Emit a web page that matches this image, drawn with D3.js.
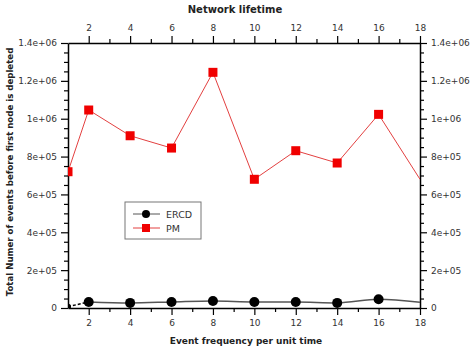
<!DOCTYPE html>
<html>
<head>
<meta charset="UTF-8">
<title>Network lifetime</title>
<style>
  body { margin: 0; background: #fff; }
  text { font-family: "DejaVu Sans", Verdana, sans-serif; }
  .tick text { font-size: 9px; fill: #333; }
  .title { font-weight: bold; fill: #222; }
</style>
</head>
<body>
<div id="chart"></div>
<script src="https://d3js.org/d3.v7.min.js"></script>
<script>
const xValues = [1, 2, 4, 6, 8, 10, 12, 14, 16, 18];
const ercd = [7000, 32000, 27000, 32000, 37000, 32000, 32000, 27000, 46000, 30000];
const pm = [720000, 1046000, 910000, 845000, 1245000, 680000, 831000, 766000, 1023000, 680000];
const xTicks = [2, 4, 6, 8, 10, 12, 14, 16, 18];
const yTicks = [0, 200000, 400000, 600000, 800000, 1000000, 1200000, 1400000];
const yTickLabels = ["0", "2e+05", "4e+05", "6e+05", "8e+05", "1e+06", "1.2e+06", "1.4e+06"];

const width = 474, height = 351;
const margin = { top: 43, right: 54, bottom: 43, left: 68 };
const iw = width - margin.left - margin.right;
const ih = height - margin.top - margin.bottom;

const svg = d3.select("#chart").append("svg")
    .attr("width", width)
    .attr("height", height);

const g = svg.append("g").attr("transform", `translate(${margin.left},${margin.top})`);

const x = d3.scaleLinear().domain([1, 18]).range([0, iw]);
const y = d3.scaleLinear().domain([0, 1400000]).range([ih, 0]);

svg.append("defs").append("clipPath").attr("id", "clip")
    .append("rect").attr("width", iw).attr("height", ih);

// minor ticks
const xMinor = d3.range(3, 18, 2);
const yMinor = d3.range(0, 1400001, 50000).filter(v => v % 200000 !== 0);

function styleAxis(sel) {
    sel.select(".domain").attr("stroke", "#000").attr("stroke-width", 1.5);
    sel.selectAll(".tick line").attr("stroke", "#000").attr("stroke-width", 1.2);
}

// x axes
const axBottom = g.append("g").attr("transform", `translate(0,${ih})`)
    .call(d3.axisBottom(x).tickValues(xTicks).tickSize(7).tickSizeOuter(0).tickPadding(5));
axBottom.append("g").call(d3.axisBottom(x).tickValues(xMinor).tickSize(4).tickFormat(""))
    .select(".domain").remove();
styleAxis(axBottom);

const axTop = g.append("g")
    .call(d3.axisTop(x).tickValues(xTicks).tickSize(7).tickSizeOuter(0).tickPadding(5));
axTop.append("g").call(d3.axisTop(x).tickValues(xMinor).tickSize(4).tickFormat(""))
    .select(".domain").remove();
styleAxis(axTop);

// y axes
const axLeft = g.append("g")
    .call(d3.axisLeft(y).tickValues(yTicks).tickFormat((d, i) => yTickLabels[i]).tickSize(7).tickSizeOuter(0).tickPadding(4));
axLeft.append("g").call(d3.axisLeft(y).tickValues(yMinor).tickSize(4).tickFormat(""))
    .select(".domain").remove();
styleAxis(axLeft);

const axRight = g.append("g").attr("transform", `translate(${iw},0)`)
    .call(d3.axisRight(y).tickValues(yTicks).tickFormat((d, i) => yTickLabels[i]).tickSize(7).tickSizeOuter(0).tickPadding(4));
axRight.append("g").call(d3.axisRight(y).tickValues(yMinor).tickSize(4).tickFormat(""))
    .select(".domain").remove();
styleAxis(axRight);

// series
const plot = g.append("g").attr("clip-path", "url(#clip)");
const line = d3.line().x(d => x(d[0])).y(d => y(d[1]));

const ercdPts = xValues.map((v, i) => [v, ercd[i]]);
const pmPts = xValues.map((v, i) => [v, pm[i]]);

// first ERCD segment is dashed black
plot.append("path").datum(ercdPts.slice(0, 2))
    .attr("d", line).attr("fill", "none")
    .attr("stroke", "#000").attr("stroke-width", 1.5).attr("stroke-dasharray", "3,2");
plot.append("path").datum(ercdPts.slice(1))
    .attr("d", line.curve(d3.curveMonotoneX)).attr("fill", "none")
    .attr("stroke", "#555").attr("stroke-width", 1.5);
line.curve(d3.curveLinear);

plot.append("path").datum(pmPts)
    .attr("d", line).attr("fill", "none")
    .attr("stroke", "#e34040").attr("stroke-width", 1);

plot.selectAll(".pm").data(pmPts.slice(0, -1)).enter().append("rect")
    .attr("x", d => x(d[0]) - 4.5).attr("y", d => y(d[1]) - 4.5)
    .attr("width", 9).attr("height", 9).attr("fill", "#f00000");

plot.selectAll(".ercd").data(ercdPts.slice(0, -1)).enter().append("circle")
    .attr("cx", d => x(d[0])).attr("cy", d => y(d[1]))
    .attr("r", d => d[0] === 1 ? 3 : 5).attr("fill", "#000");

// titles
svg.append("text").attr("class", "title")
    .attr("x", 235).attr("y", 13).attr("text-anchor", "middle")
    .attr("font-size", 10).text("Network lifetime");
svg.append("text").attr("class", "title")
    .attr("x", 246).attr("y", 344).attr("text-anchor", "middle")
    .attr("font-size", 9).text("Event frequency per unit time");
svg.append("text").attr("class", "title")
    .attr("transform", "translate(13,172) rotate(-90)")
    .attr("text-anchor", "middle").attr("font-size", 8.6)
    .text("Total Numer of events before first node is depleted");

// legend
const lg = svg.append("g").attr("transform", "translate(125,202)");
lg.append("rect").attr("width", 76).attr("height", 37)
    .attr("fill", "#fff").attr("stroke", "#777").attr("stroke-width", 1);
const items = [{ name: "ERCD", color: "#555", mark: "circle" }, { name: "PM", color: "#e34040", mark: "rect" }];
items.forEach((it, i) => {
    const yy = 12 + i * 14;
    lg.append("line").attr("x1", 8).attr("x2", 35).attr("y1", yy).attr("y2", yy)
        .attr("stroke", it.color).attr("stroke-width", 1);
    if (it.mark === "circle") {
        lg.append("circle").attr("cx", 21).attr("cy", yy).attr("r", 4).attr("fill", "#000");
    } else {
        lg.append("rect").attr("x", 17).attr("y", yy - 4).attr("width", 8).attr("height", 8).attr("fill", "#f00000");
    }
    lg.append("text").attr("x", 41).attr("y", yy + 3.5).attr("font-size", 9.5)
        .attr("fill", "#333").text(it.name);
});
</script>
</body>
</html>
